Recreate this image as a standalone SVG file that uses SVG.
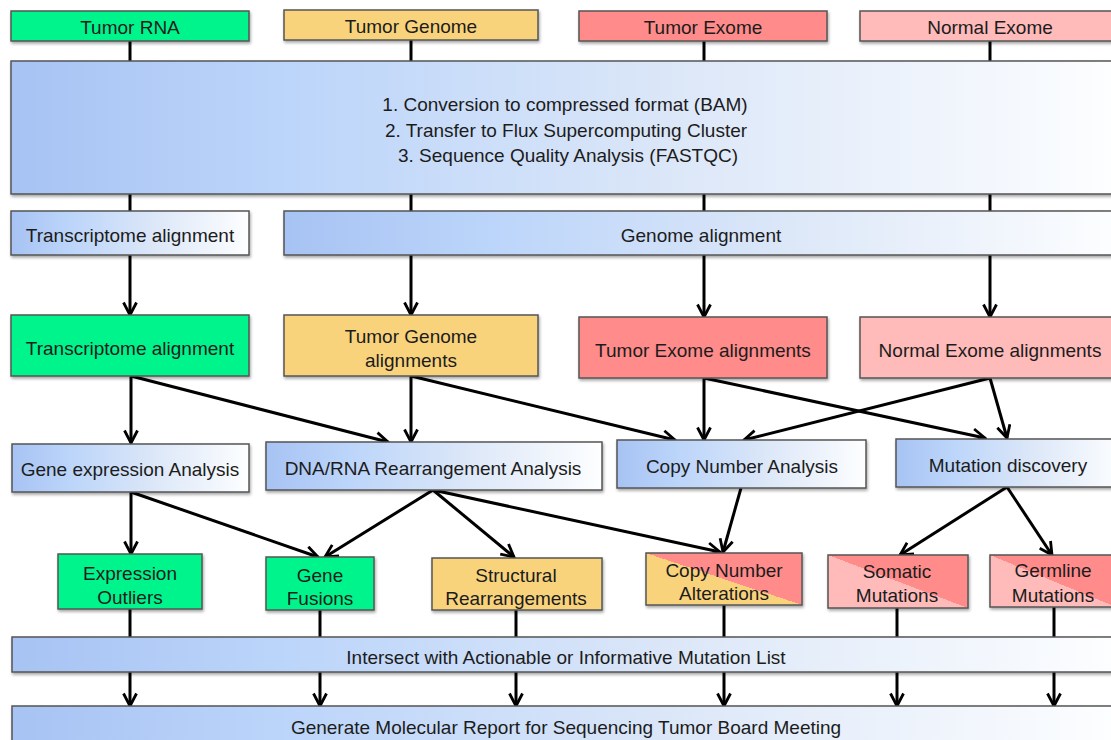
<svg xmlns="http://www.w3.org/2000/svg" width="1111" height="740" viewBox="0 0 1111 740">
<defs>
<style>
.lbl{font-family:"Liberation Sans",Arial,sans-serif;font-size:19px;fill:#1c1c1c;text-anchor:middle;dominant-baseline:central}
.box{stroke:#555;stroke-width:1.5}
.green{fill:#00F48C}
.yellow{fill:#F9D37B}
.red{fill:#FF8B8B}
.pink{fill:#FFBABA}
.blue{fill:url(#blueGrad)}
.ln{stroke:#000;stroke-width:3;fill:none}
.ar{stroke:#000;stroke-width:3;fill:none;marker-end:url(#arr)}
</style>
<linearGradient id="blueGrad" x1="0" y1="0" x2="1" y2="0">
<stop offset="0" stop-color="#A7C3F3"/>
<stop offset="0.25" stop-color="#BCD5FA"/>
<stop offset="0.6" stop-color="#DCE7F8"/>
<stop offset="1" stop-color="#FDFEFF"/>
</linearGradient>
<linearGradient id="yellowRed" x1="0" y1="1" x2="1" y2="0">
<stop offset="0.5" stop-color="#F9D37B"/>
<stop offset="0.5" stop-color="#FF8B8B"/>
</linearGradient>
<linearGradient id="pinkRed" x1="0" y1="1" x2="1" y2="0">
<stop offset="0.5" stop-color="#FFBABA"/>
<stop offset="0.5" stop-color="#FF8B8B"/>
</linearGradient>
<filter id="sh" x="-5%" y="-10%" width="115%" height="140%">
<feDropShadow dx="1" dy="2" stdDeviation="1.5" flood-color="#000" flood-opacity="0.35"/>
</filter>
<marker id="arr" viewBox="0 0 16 16" refX="14" refY="8" markerWidth="16" markerHeight="16" markerUnits="userSpaceOnUse" orient="auto">
<path d="M1.5,1.5 L14,8 L1.5,14.5" fill="none" stroke="#000" stroke-width="2.8"/>
</marker>
</defs>
<rect width="1111" height="740" fill="#fff"/>

<g id="connectors">
<line class="ln" x1="130" y1="41" x2="130" y2="61"/>
<line class="ln" x1="411" y1="40" x2="411" y2="61"/>
<line class="ln" x1="704" y1="41" x2="704" y2="61"/>
<line class="ln" x1="990" y1="41" x2="990" y2="61"/>
<line class="ln" x1="130" y1="194" x2="130" y2="211"/>
<line class="ln" x1="411" y1="194" x2="411" y2="211"/>
<line class="ln" x1="704" y1="194" x2="704" y2="211"/>
<line class="ln" x1="990" y1="194" x2="990" y2="211"/>
<line class="ar" x1="130" y1="255" x2="130" y2="315"/>
<line class="ar" x1="411" y1="255" x2="411" y2="315"/>
<line class="ar" x1="704" y1="255" x2="704" y2="317"/>
<line class="ar" x1="990" y1="255" x2="990" y2="317"/>
<line class="ar" x1="131" y1="376" x2="131" y2="443"/>
<line class="ar" x1="131" y1="376" x2="388" y2="442"/>
<line class="ar" x1="411" y1="376" x2="411" y2="442"/>
<line class="ar" x1="411" y1="376" x2="675" y2="440"/>
<line class="ar" x1="704" y1="378" x2="704" y2="440"/>
<line class="ar" x1="704" y1="378" x2="985" y2="438"/>
<line class="ar" x1="990" y1="378" x2="744" y2="440"/>
<line class="ar" x1="990" y1="378" x2="1007" y2="438"/>
<line class="ar" x1="131" y1="492" x2="131" y2="554"/>
<line class="ar" x1="131" y1="492" x2="318" y2="557"/>
<line class="ar" x1="433" y1="490" x2="325" y2="557"/>
<line class="ar" x1="433" y1="490" x2="514" y2="557"/>
<line class="ar" x1="433" y1="490" x2="720" y2="552"/>
<line class="ar" x1="741" y1="488" x2="723" y2="552"/>
<line class="ar" x1="1007" y1="487" x2="900" y2="555"/>
<line class="ar" x1="1007" y1="487" x2="1052" y2="555"/>
<line class="ln" x1="130" y1="609" x2="130" y2="637"/>
<line class="ln" x1="320" y1="610" x2="320" y2="637"/>
<line class="ln" x1="516" y1="610" x2="516" y2="637"/>
<line class="ln" x1="724" y1="605" x2="724" y2="637"/>
<line class="ln" x1="897" y1="608" x2="897" y2="637"/>
<line class="ln" x1="1054" y1="607" x2="1054" y2="637"/>
<line class="ar" x1="130" y1="672" x2="130" y2="706"/>
<line class="ar" x1="320" y1="672" x2="320" y2="706"/>
<line class="ar" x1="516" y1="672" x2="516" y2="706"/>
<line class="ar" x1="724" y1="672" x2="724" y2="706"/>
<line class="ar" x1="897" y1="672" x2="897" y2="706"/>
<line class="ar" x1="1054" y1="672" x2="1054" y2="706"/>
</g>

<g id="tumor-rna"><rect class="box green" filter="url(#sh)" x="11" y="11" width="238" height="30"/><text class="lbl" x="130" y="27">Tumor RNA</text></g>
<g id="tumor-genome"><rect class="box yellow" filter="url(#sh)" x="284" y="10" width="254" height="30"/><text class="lbl" x="411" y="26">Tumor Genome</text></g>
<g id="tumor-exome"><rect class="box red" filter="url(#sh)" x="579" y="11" width="248" height="30"/><text class="lbl" x="703" y="27">Tumor Exome</text></g>
<g id="normal-exome"><rect class="box pink" filter="url(#sh)" x="860" y="11" width="262" height="30"/><text class="lbl" x="990" y="27">Normal Exome</text></g>

<g id="preprocess"><rect class="box blue" filter="url(#sh)" x="11" y="61" width="1111" height="133"/>
<text class="lbl" x="565" y="104">1. Conversion to compressed format (BAM)</text>
<text class="lbl" x="566" y="130">2. Transfer to Flux Supercomputing Cluster</text>
<text class="lbl" x="568" y="155">3. Sequence Quality Analysis (FASTQC)</text></g>

<g id="transcriptome-align-step"><rect class="box blue" filter="url(#sh)" x="11" y="211" width="238" height="44"/><text class="lbl" x="130" y="235">Transcriptome alignment</text></g>
<g id="genome-align-step"><rect class="box blue" filter="url(#sh)" x="284" y="211" width="838" height="44"/><text class="lbl" x="701" y="235">Genome alignment</text></g>

<g id="transcriptome-alignment"><rect class="box green" filter="url(#sh)" x="11" y="315" width="238" height="61"/><text class="lbl" x="130" y="348">Transcriptome alignment</text></g>
<g id="tumor-genome-alignments"><rect class="box yellow" filter="url(#sh)" x="284" y="315" width="254" height="61"/><text class="lbl" x="411" y="336">Tumor Genome</text><text class="lbl" x="411" y="360">alignments</text></g>
<g id="tumor-exome-alignments"><rect class="box red" filter="url(#sh)" x="579" y="317" width="248" height="61"/><text class="lbl" x="703" y="350">Tumor Exome alignments</text></g>
<g id="normal-exome-alignments"><rect class="box pink" filter="url(#sh)" x="860" y="317" width="262" height="61"/><text class="lbl" x="990" y="350">Normal Exome alignments</text></g>

<g id="gene-expression"><rect class="box blue" filter="url(#sh)" x="12" y="444" width="237" height="48"/><text class="lbl" x="130" y="469">Gene expression Analysis</text></g>
<g id="rearrangement-analysis"><rect class="box blue" filter="url(#sh)" x="266" y="442" width="336" height="48"/><text class="lbl" x="433" y="468">DNA/RNA Rearrangement Analysis</text></g>
<g id="copy-number-analysis"><rect class="box blue" filter="url(#sh)" x="617" y="440" width="249" height="48"/><text class="lbl" x="742" y="466">Copy Number Analysis</text></g>
<g id="mutation-discovery"><rect class="box blue" filter="url(#sh)" x="896" y="439" width="226" height="48"/><text class="lbl" x="1008" y="465">Mutation discovery</text></g>

<g id="expression-outliers"><rect class="box green" filter="url(#sh)" x="58" y="554" width="144" height="55"/><text class="lbl" x="130" y="573">Expression</text><text class="lbl" x="130" y="597">Outliers</text></g>
<g id="gene-fusions"><rect class="box green" filter="url(#sh)" x="266" y="557" width="108" height="53"/><text class="lbl" x="320" y="575">Gene</text><text class="lbl" x="320" y="598">Fusions</text></g>
<g id="structural-rearrangements"><rect class="box yellow" filter="url(#sh)" x="432" y="558" width="170" height="52"/><text class="lbl" x="516" y="575">Structural</text><text class="lbl" x="516" y="598">Rearrangements</text></g>
<g id="copy-number-alterations"><rect class="box" fill="url(#yellowRed)" filter="url(#sh)" x="646" y="553" width="156" height="52"/><text class="lbl" x="724" y="570">Copy Number</text><text class="lbl" x="724" y="593">Alterations</text></g>
<g id="somatic-mutations"><rect class="box" fill="url(#pinkRed)" filter="url(#sh)" x="828" y="555" width="140" height="53"/><text class="lbl" x="897" y="571">Somatic</text><text class="lbl" x="897" y="595">Mutations</text></g>
<g id="germline-mutations"><rect class="box" fill="url(#pinkRed)" filter="url(#sh)" x="990" y="555" width="126" height="52"/><text class="lbl" x="1053" y="570">Germline</text><text class="lbl" x="1053" y="595">Mutations</text></g>

<g id="intersect"><rect class="box blue" filter="url(#sh)" x="12" y="637" width="1110" height="35"/><text class="lbl" x="566" y="657">Intersect with Actionable or Informative Mutation List</text></g>
<g id="report"><rect class="box blue" filter="url(#sh)" x="12" y="706" width="1110" height="44"/><text class="lbl" x="566" y="727">Generate Molecular Report for Sequencing Tumor Board Meeting</text></g>
</svg>
